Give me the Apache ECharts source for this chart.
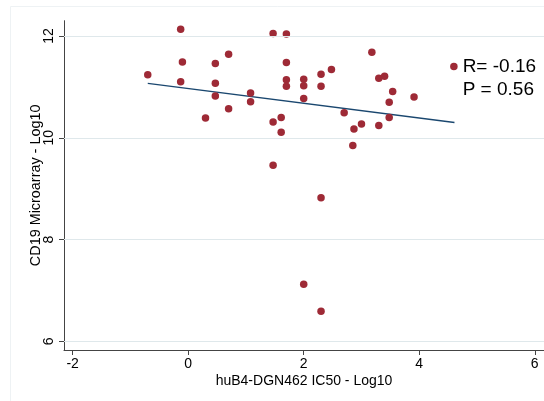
<!DOCTYPE html>
<html>
<head>
<meta charset="utf-8">
<script src="https://cdn.jsdelivr.net/npm/echarts@6/dist/echarts.min.js"></script>
<style>
html,body{margin:0;padding:0;background:#fff;}
#chart{width:544px;height:401px;}
</style>
</head>
<body>
<div id="chart"></div>
<script>
// IC50 (log10) values
const xValues = [-0.13, -0.10, -0.70, -0.13, 0.47, 0.70, 0.47, 0.47, 0.70, 0.30,
  1.47, 1.70, 1.70, 1.70, 1.70, 2.00, 2.00, 2.00, 2.30, 2.30, 2.48, 1.08, 1.08, 1.47, 1.61, 1.61,
  3.18, 3.30, 3.40, 3.54, 3.48, 3.91, 2.70, 3.48, 3.00, 2.87, 3.30,
  2.85, 1.47,
  2.30, 2.00, 2.30];
// CD19 microarray (log10) values
const yValues = [12.13, 11.49, 11.24, 11.10, 11.46, 11.64, 11.07, 10.82, 10.57, 10.39,
  12.05, 12.04, 11.48, 11.14, 11.01, 11.15, 11.02, 10.77, 11.25, 11.01, 11.34, 10.88, 10.71, 10.31, 10.40, 10.11,
  11.68, 11.17, 11.21, 10.91, 10.70, 10.80, 10.49, 10.40, 10.27, 10.17, 10.24,
  9.85, 9.46,
  8.82, 7.12, 6.59];
// annotated point
const annotX = [4.60];
const annotY = [11.40];
const annotText = ['R= -0.16', 'P = 0.56'];
// fitted line endpoints
const fitX = [-0.70, 4.61];
const fitY = [11.07, 10.30];
// ticks
const xTicks = [-2, 0, 2, 4, 6];
const yTicks = [6, 8, 10, 12];
const xTitle = 'huB4-DGN462 IC50 - Log10';
const yTitle = 'CD19 Microarray - Log10';

const pts = xValues.map((x, i) => [x, yValues[i]]);
const annotPts = annotX.map((x, i) => [x, annotY[i]]);
const fitPts = fitX.map((x, i) => [x, fitY[i]]);
const gridPts = yTicks.map(v => ({yAxis: v}));

const chart = echarts.init(document.getElementById('chart'), null, {renderer: 'canvas'});
const font = 'Liberation Sans, Arial, Helvetica, sans-serif';
const markerColor = '#9e2a36';

chart.setOption({
  animation: false,
  backgroundColor: '#fff',
  graphic: [{
    type: 'rect', silent: true, z: -10,
    shape: {x: 10.5, y: 6.5, width: 600, height: 500},
    style: {fill: 'none', stroke: '#eef2f4', lineWidth: 1}
  }],
  grid: {left: 64, top: 20.7, width: 480, height: 329.3, containLabel: false},
  xAxis: {
    type: 'value', min: -2.15, max: 6.16,
    name: xTitle, nameLocation: 'middle', nameGap: 24, nameMoveOverlap: false,
    nameTextStyle: {fontFamily: font, fontSize: 14, color: '#000'},
    axisLine: {show: true, onZero: false, lineStyle: {color: '#444', width: 1}},
    axisTick: {show: true, length: 5, customValues: xTicks, lineStyle: {color: '#444'}},
    axisLabel: {customValues: xTicks, fontFamily: font, fontSize: 14, color: '#000', margin: 7},
    splitLine: {show: false}
  },
  yAxis: {
    type: 'value', min: 5.83, max: 12.30,
    name: yTitle, nameLocation: 'middle', nameGap: 21, nameMoveOverlap: false,
    nameTextStyle: {fontFamily: font, fontSize: 14.4, color: '#000'},
    axisLine: {show: true, onZero: false, lineStyle: {color: '#444', width: 1}},
    axisTick: {show: true, length: 5, customValues: yTicks, lineStyle: {color: '#444'}},
    axisLabel: {customValues: yTicks, rotate: 90, fontFamily: font, fontSize: 14, color: '#000',
      margin: 8, align: 'center', verticalAlign: 'bottom'},
    splitLine: {show: false}
  },
  series: [
    {
      name: 'grid', type: 'scatter', data: [], z: 0,
      markLine: {
        silent: true, symbol: ['none', 'none'], animation: false,
        label: {show: false},
        lineStyle: {color: '#dfe8eb', width: 1, type: 'solid', opacity: 1},
        data: gridPts
      }
    },
    {
      type: 'line', data: fitPts, symbol: 'none', z: 2,
      lineStyle: {color: '#1a476f', width: 1.3}
    },
    {
      type: 'scatter', data: pts, symbol: 'circle', symbolSize: 7.5, z: 3,
      itemStyle: {color: markerColor, opacity: 1}
    },
    {
      type: 'scatter', data: annotPts, symbol: 'circle', symbolSize: 7.5, z: 3,
      itemStyle: {color: markerColor, opacity: 1},
      label: {
        show: true, position: 'right', distance: 5,
        formatter: annotText.join('\n'),
        fontFamily: font, fontSize: 19, lineHeight: 23, color: '#000',
        verticalAlign: 'top', offset: [0, -11.5]
      }
    }
  ]
});
</script>
</body>
</html>
